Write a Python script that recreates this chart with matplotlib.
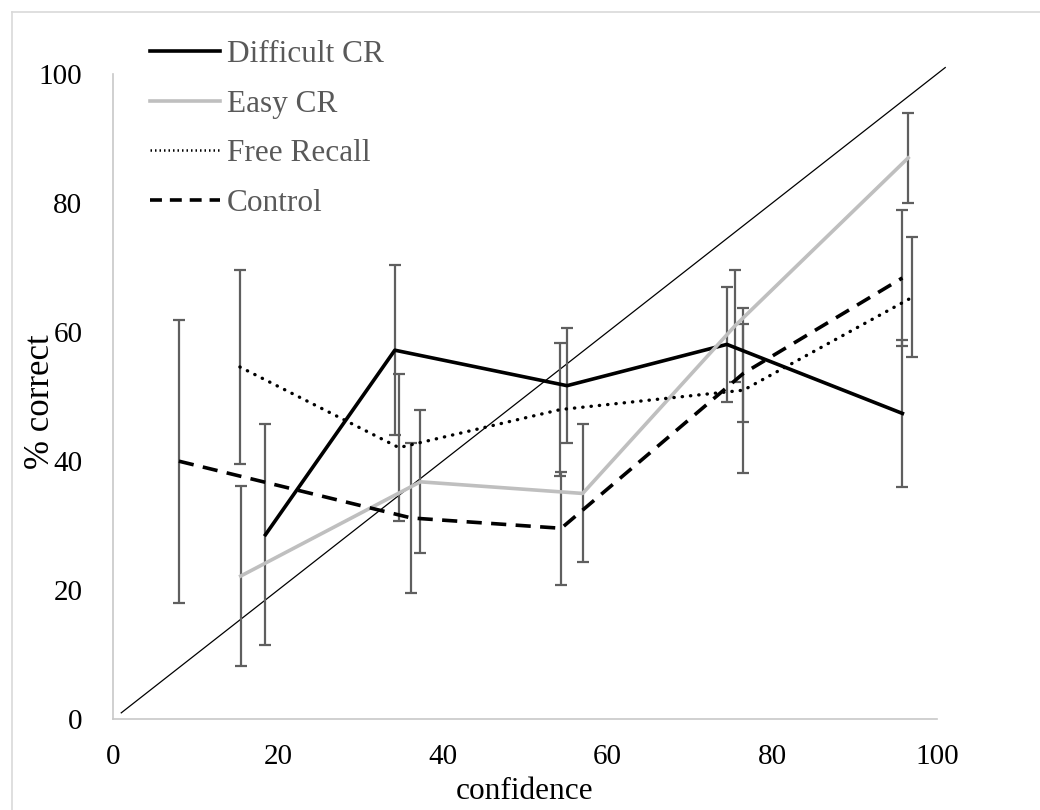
import matplotlib
matplotlib.use("Agg")
import matplotlib.pyplot as plt
from matplotlib.lines import Line2D

plt.rcParams['font.family'] = ['Liberation Serif', 'DejaVu Serif']

# values (mean confidence, % correct, error)
diff_x = [18.5, 34.2, 55.1, 74.5, 95.8]
diff_y = [28.6, 57.2, 51.7, 58.1, 47.4]
diff_err = [17.1, 13.2, 8.9, 8.9, 11.4]

easy_x = [15.5, 37.3, 57.0, 75.5, 96.5]
easy_y = [22.2, 36.8, 35.0, 61.0, 87.0]
easy_err = [13.9, 11.1, 10.7, 8.7, 7.0]

free_x = [15.4, 34.7, 54.3, 76.5, 97.0]
free_y = [54.6, 42.1, 48.0, 51.0, 65.4]
free_err = [15.0, 11.4, 10.3, 12.8, 9.3]

ctrl_x = [8.0, 36.2, 54.4, 76.5, 95.8]
ctrl_y = [40.0, 31.2, 29.6, 53.6, 68.4]
ctrl_err = [21.9, 11.6, 8.8, 7.6, 10.6]

ticks = [0, 20, 40, 60, 80, 100]

fig = plt.figure(figsize=(10.4, 8.1), dpi=100)
ax = fig.add_axes([113 / 1040, 90.7 / 810, 824 / 1040, 645.3 / 810])

bar_col = '#5f5f5f'
gray = '#bfbfbf'

# perfect calibration line
ax.plot([1, 101], [1, 101], color='black', lw=0.9, clip_on=False, zorder=2)

series = [
    (diff_x, diff_y, diff_err, dict(color='black', lw=2.6, ls='-')),
    (easy_x, easy_y, easy_err, dict(color=gray, lw=2.6, ls='-')),
    (free_x, free_y, free_err, dict(color='black', lw=2.4, ls=(0, (0.1, 2.4)),
                                    dash_capstyle='round')),
    (ctrl_x, ctrl_y, ctrl_err, dict(color='black', lw=2.6, ls=(0, (4.2, 2.6)))),
]

for xs, ys, es, style in series:
    ax.errorbar(xs, ys, yerr=es, fmt='none', ecolor=bar_col, elinewidth=1.6,
                capsize=4.5, capthick=1.6, zorder=3)
    ax.plot(xs, ys, zorder=4, **style)

ax.set_xlim(0, 100)
ax.set_ylim(0, 100)
ax.set_xticks(ticks)
ax.set_yticks(ticks)
ax.tick_params(length=0, labelsize=21)
ax.tick_params(axis='y', pad=22)
ax.tick_params(axis='x', pad=18)

for s in ['top', 'right']:
    ax.spines[s].set_visible(False)
for s in ['left', 'bottom']:
    ax.spines[s].set_color('#c8c8c8')
    ax.spines[s].set_linewidth(1.2)

ax.set_xlabel('confidence', fontsize=22.5, labelpad=5)
ax.set_ylabel('% correct', fontsize=25)
ax.yaxis.set_label_coords(-0.068, 0.492)

handles = [
    Line2D([], [], color='black', lw=2.6),
    Line2D([], [], color=gray, lw=2.6),
    Line2D([], [], color='black', lw=1.8, ls=(0, (0.6, 1.2))),
    Line2D([], [], color='black', lw=2.6, ls=(0, (3.3, 2.2))),
]
labels = ['Difficult CR', 'Easy CR', 'Free Recall', 'Control']
leg = fig.legend(handles, labels, loc='upper left', bbox_to_anchor=(150 / 1040, 1 - 40 / 810),
                 frameon=False, fontsize=22.5, handlelength=2.24, handletextpad=0.22,
                 labelspacing=0.66, borderaxespad=0, borderpad=0)
for t in leg.get_texts():
    t.set_color('#595959')

# outer chart border (only left and top edges are visible in the crop)
fig.add_artist(Line2D([12 / 1040, 12 / 1040], [0, 1 - 12 / 810], color='#d9d9d9', lw=1.2))
fig.add_artist(Line2D([12 / 1040, 1], [1 - 12 / 810, 1 - 12 / 810], color='#d9d9d9', lw=1.2))

fig.savefig('out.png', dpi=100)
